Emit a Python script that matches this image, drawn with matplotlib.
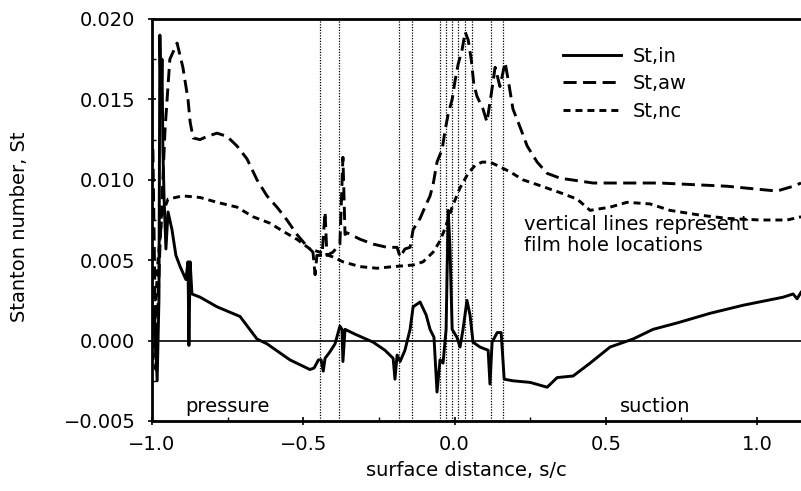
import matplotlib
matplotlib.use("Agg")
import matplotlib.pyplot as plt
from matplotlib.ticker import MultipleLocator

plt.rcParams["font.family"] = ["DejaVu Sans"]

# St,in  (solid)
s_in = [-1.000, -0.990, -0.983, -0.977, -0.974, -0.970, -0.967, -0.964, -0.960, -0.954,
        -0.947, -0.934, -0.921, -0.907, -0.888, -0.881, -0.878, -0.874, -0.868, -0.841,
        -0.785, -0.709, -0.653, -0.620, -0.544, -0.478, -0.464, -0.450, -0.441, -0.434,
        -0.428, -0.412, -0.395, -0.379, -0.372, -0.369, -0.362, -0.329, -0.269, -0.230,
        -0.203, -0.197, -0.190, -0.180, -0.164, -0.147, -0.137, -0.114, -0.094, -0.081,
        -0.068, -0.058, -0.048, -0.038, -0.028, -0.021, -0.015, -0.008, 0.008, 0.018,
        0.028, 0.041, 0.051, 0.061, 0.084, 0.111, 0.117, 0.124, 0.141, 0.154,
        0.164, 0.193, 0.250, 0.306, 0.339, 0.392, 0.448, 0.514, 0.590, 0.656,
        0.736, 0.845, 0.954, 1.086, 1.119, 1.132, 1.145]
st_in = [0.0025, 0.0007, -0.0025, 0.0026, 0.0190, 0.0144, 0.0175, 0.0119, 0.0088, 0.0057,
         0.0080, 0.0069, 0.0053, 0.0046, 0.0038, 0.0049, -0.0003, 0.0049, 0.0029, 0.0027,
         0.0021, 0.0015, 0.0001, -0.0002, -0.0012, -0.0018, -0.0017, -0.0012, -0.0012, -0.0019,
         -0.0011, -0.0007, -0.0002, 0.0009, 0.0007, -0.0013, 0.0007, 0.0004, -0.0001, -0.0006,
         -0.0011, -0.0024, -0.0009, -0.0013, -0.0006, 0.0007, 0.0021, 0.0024, 0.0016, 0.0007,
         0.0002, -0.0032, -0.0012, -0.0014, 0.0007, 0.0081, 0.0057, 0.0007, 0.0002, -0.0004,
         0.0007, 0.0025, 0.0016, -0.0001, -0.0004, -0.0006, -0.0027, -0.0001, 0.0005, 0.0005,
         -0.0024, -0.0025, -0.0026, -0.0029, -0.0023, -0.0022, -0.0014, -0.0004, 0.0001, 0.0007,
         0.0011, 0.0017, 0.0022, 0.0027, 0.0029, 0.0026, 0.0030]

# St,aw  (long dashes)
s_aw = [-0.997, -0.987, -0.974, -0.957, -0.941, -0.917, -0.898, -0.881, -0.874, -0.864,
        -0.841, -0.818, -0.785, -0.752, -0.719, -0.686, -0.653, -0.620, -0.587, -0.554,
        -0.521, -0.494, -0.468, -0.461, -0.455, -0.438, -0.428, -0.422, -0.402, -0.379,
        -0.369, -0.362, -0.355, -0.312, -0.269, -0.223, -0.190, -0.180, -0.164, -0.147,
        -0.137, -0.114, -0.098, -0.081, -0.071, -0.058, -0.041, -0.031, -0.021, -0.008,
        0.002, 0.012, 0.025, 0.035, 0.045, 0.055, 0.064, 0.074, 0.094, 0.107,
        0.121, 0.134, 0.150, 0.167, 0.180, 0.193, 0.216, 0.240, 0.273, 0.306,
        0.349, 0.458, 0.570, 0.679, 0.788, 0.901, 1.010, 1.066, 1.119, 1.145]
st_aw = [0.0119, -0.0018, 0.0057, 0.0131, 0.0175, 0.0185, 0.0170, 0.0150, 0.0136, 0.0126,
         0.0125, 0.0127, 0.0129, 0.0127, 0.0121, 0.0113, 0.0100, 0.0090, 0.0083, 0.0075,
         0.0066, 0.0060, 0.0055, 0.0041, 0.0053, 0.0053, 0.0080, 0.0053, 0.0055, 0.0060,
         0.0114, 0.0066, 0.0067, 0.0063, 0.0060, 0.0058, 0.0058, 0.0052, 0.0057, 0.0058,
         0.0069, 0.0076, 0.0083, 0.0090, 0.0097, 0.0111, 0.0119, 0.0131, 0.0141, 0.0150,
         0.0162, 0.0172, 0.0181, 0.0192, 0.0187, 0.0175, 0.0159, 0.0152, 0.0144, 0.0136,
         0.0153, 0.0170, 0.0158, 0.0173, 0.0159, 0.0144, 0.0133, 0.0121, 0.0111, 0.0104,
         0.0101, 0.0098, 0.0098, 0.0098, 0.0097, 0.0096, 0.0094, 0.0093, 0.0096, 0.0098]

# St,nc  (short dashes)
s_nc = [-0.997, -0.987, -0.980, -0.967, -0.947, -0.898, -0.841, -0.785, -0.719, -0.666,
        -0.610, -0.567, -0.521, -0.478, -0.445, -0.402, -0.369, -0.312, -0.256, -0.203,
        -0.137, -0.104, -0.071, -0.048, -0.031, -0.008, 0.018, 0.045, 0.068, 0.091,
        0.117, 0.140, 0.183, 0.226, 0.273, 0.349, 0.405, 0.448, 0.514, 0.570,
        0.646, 0.712, 0.812, 0.901, 1.010, 1.099, 1.145]
st_nc = [-0.0012, 0.0026, 0.0050, 0.0078, 0.0088, 0.0090, 0.0089, 0.0086, 0.0083, 0.0077,
         0.0073, 0.0068, 0.0063, 0.0057, 0.0055, 0.0052, 0.0049, 0.0046, 0.0045, 0.0046,
         0.0047, 0.0049, 0.0055, 0.0062, 0.0070, 0.0083, 0.0095, 0.0104, 0.0109, 0.0111,
         0.0111, 0.0109, 0.0105, 0.0100, 0.0097, 0.0092, 0.0088, 0.0081, 0.0083, 0.0086,
         0.0085, 0.0081, 0.0078, 0.0076, 0.0075, 0.0075, 0.0077]

# film hole locations
holes = [-0.445, -0.381, -0.182, -0.141, -0.048, -0.029, -0.009, 0.013, 0.035, 0.057, 0.121, 0.161]

fig = plt.figure(figsize=(8.01, 4.91), dpi=100)
ax = fig.add_axes([152 / 801, 1 - 421 / 491, 1 - 152 / 801, (421 - 19) / 491])

for h in holes:
    ax.axvline(h, color="black", lw=0.9, ls=(0, (1, 1.2)), zorder=1)
ax.axhline(0, color="black", lw=1.2, zorder=1)

ax.plot(s_in, st_in, color="black", lw=2.1, label="St,in")
ax.plot(s_aw, st_aw, color="black", lw=2.1, ls=(0, (4.5, 2.2)), label="St,aw")
ax.plot(s_nc, st_nc, color="black", lw=2.1, ls=(0, (2.4, 1.7)), label="St,nc")

ax.set_xlim(-1.0, 1.145)
ax.set_ylim(-0.005, 0.020)
ax.xaxis.set_major_locator(MultipleLocator(0.5))
ax.xaxis.set_minor_locator(MultipleLocator(0.25))
ax.yaxis.set_major_locator(MultipleLocator(0.005))
ax.yaxis.set_minor_locator(MultipleLocator(0.0025))
ax.xaxis.set_major_formatter(plt.FuncFormatter(lambda v, p: f"{v:.1f}".replace("-", "\u2212")))
ax.yaxis.set_major_formatter(plt.FuncFormatter(lambda v, p: f"{v:.3f}".replace("-", "\u2212")))
ax.tick_params(which="major", direction="inout", length=6, width=1.2, labelsize=14)
ax.tick_params(axis="x", which="major", pad=7)
ax.tick_params(axis="y", which="major", pad=9)
ax.tick_params(which="minor", direction="in", length=3, width=1)
ax.spines["right"].set_visible(False)
for sp in ["left", "top", "bottom"]:
    ax.spines[sp].set_linewidth(2.0)

ax.set_xlabel("surface distance, s/c", fontsize=14, va="center")
ax.xaxis.set_label_coords((466 - 152) / 649, (421 - 470) / 402)
ax.set_ylabel("Stanton number, St", fontsize=14, va="center")
ax.yaxis.set_label_coords((20 - 152) / 649, (421 - 227) / 402)

ax.text(-0.891, -0.0047, "pressure", fontsize=14, ha="left", va="bottom")
ax.text(0.547, -0.0047, "suction", fontsize=14, ha="left", va="bottom")
ax.text(0.23, 0.0078, "vertical lines represent\nfilm hole locations", fontsize=14,
        ha="left", va="top", linespacing=1.1)

leg = ax.legend(loc="upper left", bbox_to_anchor=(0.606, 0.975), frameon=False, fontsize=14,
                handlelength=3.0, handletextpad=0.6, labelspacing=0.45, borderpad=0.4)

fig.savefig("out.png", dpi=100)
